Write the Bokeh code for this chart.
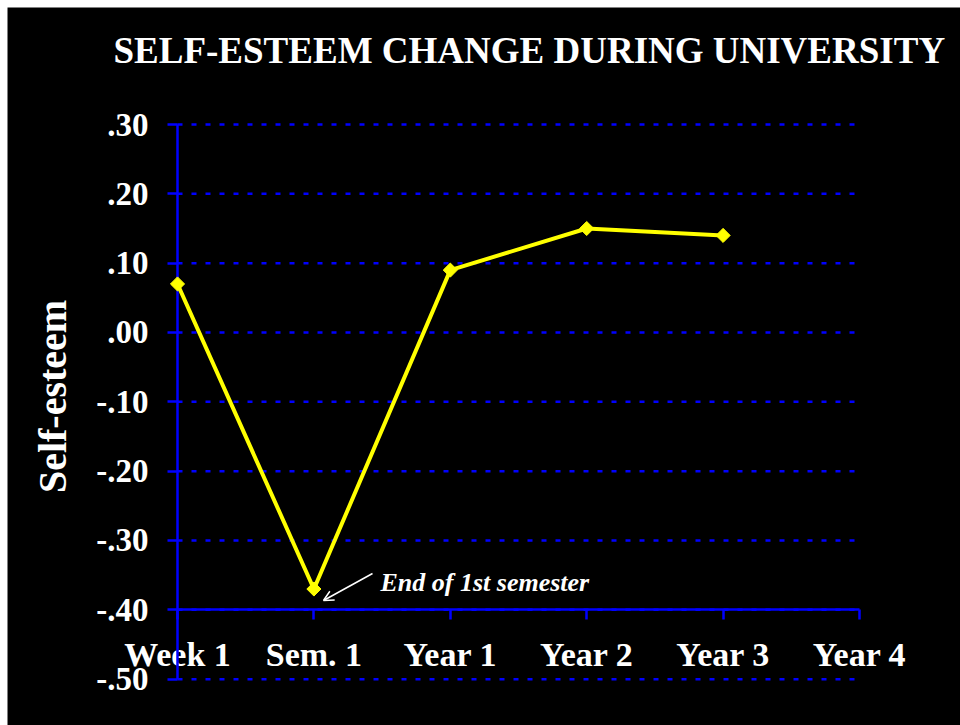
from bokeh.plotting import figure
from bokeh.models import FixedTicker, Label, Arrow, OpenHead, Range1d
from bokeh.embed import file_html
from bokeh.resources import INLINE
import math

# ---- data ----
categories = ["Week 1", "Sem. 1", "Year 1", "Year 2", "Year 3", "Year 4"]
values = [0.07, -0.37, 0.09, 0.15, 0.14]
y_ticks = [-0.5, -0.4, -0.3, -0.2, -0.1, 0.0, 0.1, 0.2, 0.3]
y_tick_labels = ["-.50", "-.40", "-.30", "-.20", "-.10", ".00", ".10", ".20", ".30"]
title_text = "SELF-ESTEEM CHANGE DURING UNIVERSITY"
y_title = "Self-esteem"
note_text = "End of 1st semester"
x_axis_cross = -0.4

x_idx = list(range(len(values)))
x_ticks = list(range(len(categories)))

# ---- layout (pixels) ----
W, H = 960, 725
EDGE = 7                 # white strip at top/left
PX_X0 = 177              # pixel of first category
PX_PER_X = 136.4         # pixels per category step
PX_Y_TOP = 124           # pixel of top tick (.30)
PX_PER_Y = 693.3         # pixels per 1.0 of value


def dx(px):
    return (px - PX_X0) / PX_PER_X


def dy(py):
    return y_ticks[-1] - (py - PX_Y_TOP) / PX_PER_Y


FONT = "Liberation Serif"
BLUE = "#0000FF"
YELLOW = "#FFFF00"

p = figure(width=W, height=H, output_backend="svg", toolbar_location=None,
           x_range=Range1d(dx(EDGE), dx(W)),
           y_range=Range1d(dy(H), dy(EDGE)),
           min_border_left=EDGE, min_border_top=EDGE,
           min_border_right=0, min_border_bottom=0,
           background_fill_color="black", border_fill_color="white",
           outline_line_color=None)
p.title.visible = False
p.grid.visible = False

# grid lines (dotted blue) between first and last category
n = len(y_ticks)
p.segment(x0=[x_ticks[0]] * n, x1=[x_ticks[-1]] * n, y0=y_ticks, y1=y_ticks,
          line_color=BLUE, line_width=2.5, line_dash="5 9")

# y axis at first category
ya = p.yaxis[0]
ya.fixed_location = x_ticks[0]
ya.bounds = (y_ticks[0], y_ticks[-1])
ya.ticker = FixedTicker(ticks=y_ticks)
ya.major_label_overrides = dict(zip(y_ticks, y_tick_labels))
ya.axis_line_color = BLUE
ya.axis_line_width = 2.5
ya.major_tick_line_color = BLUE
ya.major_tick_line_width = 2.5
ya.major_tick_out = 10
ya.major_tick_in = 0
ya.minor_tick_line_color = None
ya.major_label_text_font = FONT
ya.major_label_text_font_size = "33px"
ya.major_label_text_font_style = "bold"
ya.major_label_text_color = "white"
ya.major_label_standoff = 19

# x axis, crossing at -.40
xa = p.xaxis[0]
xa.fixed_location = x_axis_cross
xa.bounds = (x_ticks[0], x_ticks[-1])
xa.ticker = FixedTicker(ticks=x_ticks)
xa.major_label_overrides = dict(zip(x_ticks, categories))
xa.axis_line_color = BLUE
xa.axis_line_width = 2.5
xa.major_tick_line_color = BLUE
xa.major_tick_line_width = 2.5
xa.major_tick_out = 10
xa.major_tick_in = 0
xa.minor_tick_line_color = None
xa.major_label_text_font = FONT
xa.major_label_text_font_size = "34px"
xa.major_label_text_font_style = "bold"
xa.major_label_text_color = "white"
xa.major_label_standoff = 16

# series
p.line(x_idx, values, line_color=YELLOW, line_width=4, level="overlay")
p.scatter(x_idx, values, marker="square", angle=math.pi / 4, size=10,
          fill_color=YELLOW, line_color=YELLOW, line_width=1, level="overlay")

# title
p.add_layout(Label(x=dx(113), y=dy(49.5), text=title_text, text_font=FONT,
                   text_font_size="37px", text_font_style="bold",
                   text_color="white", text_baseline="alphabetic"))

# y-axis title
p.add_layout(Label(x=dx(52), y=dy(396), text=y_title, text_font=FONT,
                   text_font_size="40px", text_font_style="bold",
                   text_color="white", text_baseline="alphabetic",
                   text_align="center", angle=math.pi / 2))

# annotation
p.add_layout(Label(x=dx(380), y=dy(582), text=note_text, text_font=FONT,
                   text_font_size="26px", text_font_style="bold italic",
                   text_color="white", text_baseline="alphabetic"))
p.add_layout(Arrow(x_start=dx(372), y_start=dy(573), x_end=dx(323), y_end=dy(600),
                   line_color="white", line_width=1.5,
                   end=OpenHead(size=10, line_color="white", line_width=1.5)))

open("out.html", "w").write(file_html(p, INLINE))
